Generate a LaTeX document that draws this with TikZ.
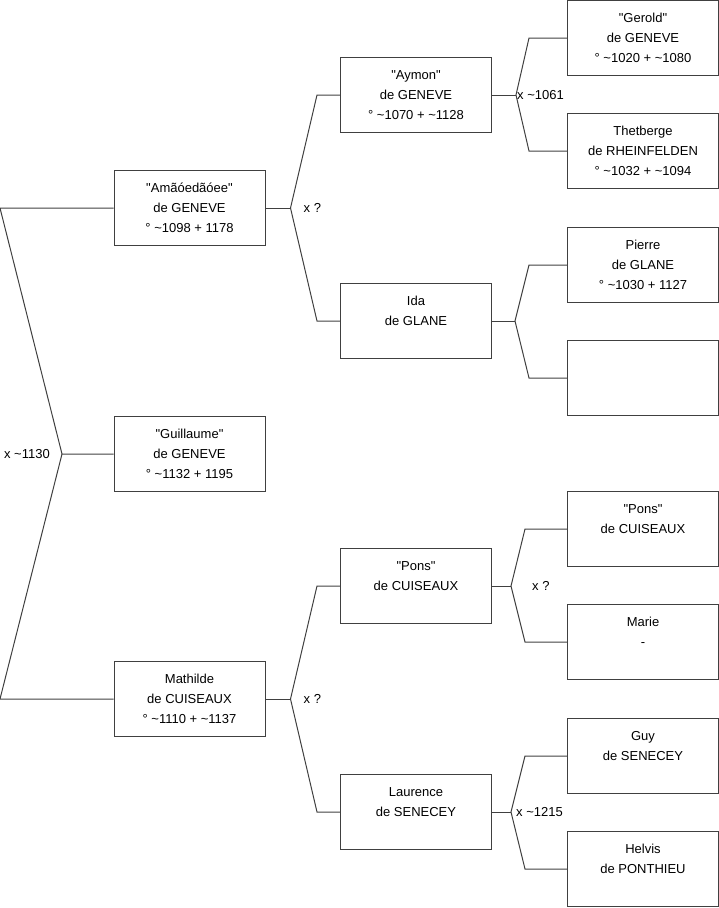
\documentclass[tikz,border=0pt]{standalone}
\usepackage{fontspec}
\setmainfont{Liberation Sans}[Ligatures=TeXOff]
\usetikzlibrary{calc}
\newcommand{\abt}{\textasciitilde}

\begin{document}
\begin{tikzpicture}[x=1pt, y=-1pt,
  person/.style={draw=black!75, line width=1pt, minimum width=151, minimum height=75,
    inner sep=0pt, align=center, font=\fontsize{13}{20}\selectfont},
  link/.style={draw=black!75, line width=1pt},
  tag/.style={font=\fontsize{13}{16}\selectfont, inner sep=0pt, anchor=west}]
  \useasboundingbox (0,0) rectangle (719,908);
  \coordinate (margin) at (0,0);
  % Generation 1
  \node[person] (amao) at (189.5,208) {"Amãóedãóee"\\de GENEVE\\° \abt1098 + 1178};
  \node[person] (guillaume) at (189.5,454) {"Guillaume"\\de GENEVE\\° \abt1132 + 1195};
  \node[person] (mathilde) at (189.5,699) {Mathilde\\de CUISEAUX\\° \abt1110 + \abt1137};
  % Generation 2
  \node[person] (aymon) at (416,95) {"Aymon"\\de GENEVE\\° \abt1070 + \abt1128};
  \node[person] (ida) at (416,321) {Ida\\de GLANE\\~};
  \node[person] (pons) at (416,586) {"Pons"\\de CUISEAUX\\~};
  \node[person] (laurence) at (416,812) {Laurence\\de SENECEY\\~};
  % Generation 3
  \node[person] (gerold) at (643,38) {"Gerold"\\de GENEVE\\° \abt1020 + \abt1080};
  \node[person] (thetberge) at (643,151) {Thetberge\\de RHEINFELDEN\\° \abt1032 + \abt1094};
  \node[person] (pierre) at (643,265) {Pierre\\de GLANE\\° \abt1030 + 1127};
  \node[person] (nobody) at (643,378) {};
  \node[person] (ponsb) at (643,529) {"Pons"\\de CUISEAUX\\~};
  \node[person] (marie) at (643,642) {Marie\\-\\~};
  \node[person] (guy) at (643,756) {Guy\\de SENECEY\\~};
  \node[person] (helvis) at (643,869) {Helvis\\de PONTHIEU\\~};
  % Couples: child/father/mother/stub/gap/label shift/label
  \foreach \p/\a/\b/\s/\t/\dx/\lbl in {amao/aymon/ida/25/23/13/{x ?},
      mathilde/pons/laurence/25/23/13/{x ?},
      aymon/gerold/thetberge/24/38/1/{x \abt1061},
      ida/pierre/nobody/23/38/0/{},
      pons/ponsb/marie/19/42/21/{x ?},
      laurence/guy/helvis/19/42/5/{x \abt1215}} {
    \coordinate (v) at ($(\p.east)+(\s,0)$);
    \draw[link] (\p.east) -- (v);
    \draw[link] (\a.west) -- ++(-\t,0) -- (v) -- ($(\b.west)+(-\t,0)$) -- (\b.west);
    \node[tag] at ($(v)+(\dx,0)$) {\lbl};
  }
  % Guillaume's parents
  \coordinate (r) at (62,454);
  \draw[link] (amao.west) -- (amao.west -| margin) -- (r) -- (guillaume.west);
  \draw[link] (r) -- (mathilde.west -| margin) -- (mathilde.west);
  \node[tag, anchor=east] at ($(r)+(-12,0)$) {x \abt1130};
\end{tikzpicture}
\end{document}
